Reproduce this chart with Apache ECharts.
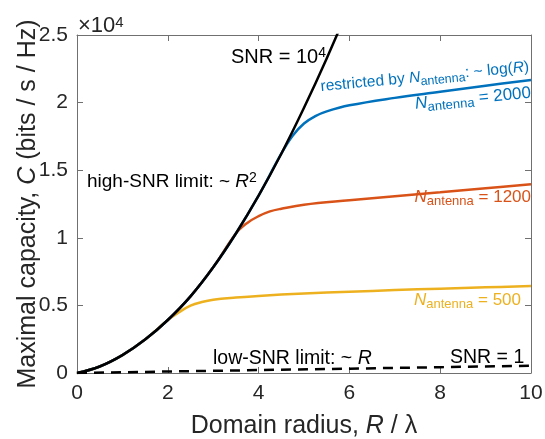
<!DOCTYPE html>
<html>
<head>
<meta charset="utf-8">
<script src="https://cdn.jsdelivr.net/npm/echarts/dist/echarts.min.js"></script>
<style>
  html, body { margin: 0; padding: 0; background: #ffffff; }
  #chart { width: 545px; height: 439px; }
</style>
</head>
<body>
<div id="chart"></div>
<script>
// Domain radius R / lambda and maximal capacity C (bits/s/Hz) for each curve.

// SNR = 1e4, unlimited antennas (high-SNR limit ~ R^2)
const highSnrR = [0, 0.5, 1, 1.5, 2, 2.5, 3, 3.5, 4, 4.5, 5, 5.5, 6];
const highSnrC = [0, 480, 1320, 2470, 3920, 5670, 7820, 10320, 13120, 16220, 19620, 23270, 27170];

// N_antenna = 500
const ant500R = [0, 0.5, 1, 1.5, 2, 2.25, 2.5, 2.75, 3, 3.5, 4, 4.5, 5, 6, 7, 8, 9, 10];
const ant500C = [0, 480, 1320, 2470, 3920, 4500, 4980, 5250, 5420, 5580, 5700, 5800, 5880, 6010, 6130, 6240, 6340, 6430];

// N_antenna = 1200
const ant1200R = [0, 0.5, 1, 1.5, 2, 2.5, 3, 3.5, 3.75, 4, 4.25, 4.5, 5, 6, 7, 8, 9, 10];
const ant1200C = [0, 480, 1320, 2470, 3920, 5670, 7820, 10320, 11100, 11600, 11950, 12150, 12450, 12780, 13080, 13370, 13670, 13960];

// N_antenna = 2000
const ant2000R = [0, 0.5, 1, 1.5, 2, 2.5, 3, 3.5, 4, 4.5, 4.75, 5, 5.25, 5.5, 6, 7, 8, 9, 10];
const ant2000C = [0, 480, 1320, 2470, 3920, 5670, 7820, 10320, 13120, 16220, 17550, 18450, 19000, 19350, 19800, 20350, 20800, 21250, 21670];

// SNR = 1 (low-SNR limit ~ R)
const lowSnrR = [0, 2, 4, 6, 8, 10];
const lowSnrC = [0, 110, 215, 320, 430, 540];

const FONT = '"Liberation Sans", Arial, Helvetica, sans-serif';
const TEXT_COLOR = '#262626';
const LINE_COLOR = '#707070';
const BLUE = '#0072BD', ORANGE = '#D95319', YELLOW = '#EDB120';

function pairs(xs, ys) { return xs.map((x, i) => [x, ys[i]]); }

const chart = echarts.init(document.getElementById('chart'), null, { renderer: 'canvas' });

function boxAxis(position, extra) {
  return Object.assign({
    type: 'value',
    position: position,
    axisLine: { show: true, onZero: false, lineStyle: { color: LINE_COLOR, width: 1 } },
    axisTick: { show: true, inside: true, length: 6, lineStyle: { color: LINE_COLOR, width: 1 } },
    axisLabel: { show: false },
    splitLine: { show: false }
  }, extra);
}

function richSet(color, size, subSize) {
  return {
    t: { fontSize: size, lineHeight: 22, fontFamily: FONT, fill: color, color: color },
    i: { fontSize: size, lineHeight: 22, fontFamily: FONT, fontStyle: 'italic', fill: color, color: color },
    sub: { fontSize: subSize, lineHeight: 4, verticalAlign: 'bottom', fontFamily: FONT, fill: color, color: color },
    sup: { fontSize: subSize, lineHeight: 6, verticalAlign: 'top', fontFamily: FONT, fill: color, color: color }
  };
}

function note(x, y, text, color, align, rotation, size, subSize) {
  return {
    type: 'text',
    x: x, y: y,
    rotation: rotation || 0,
    silent: true,
    z: 100,
    style: {
      text: text,
      align: align,
      verticalAlign: 'middle',
      fill: color,
      rich: richSet(color, size, subSize)
    }
  };
}

const nameRich = {
  t: { fontSize: 25, fontFamily: FONT, color: TEXT_COLOR },
  i: { fontSize: 25, fontFamily: FONT, fontStyle: 'italic', color: TEXT_COLOR }
};

const lineBase = { type: 'line', showSymbol: false, symbol: 'none', smooth: 0.4, clip: true, animation: false };

chart.setOption({
  animation: false,
  backgroundColor: '#ffffff',
  grid: { left: 77, right: 14, top: 35, bottom: 66, containLabel: false, outerBoundsMode: 'none' },
  xAxis: [
    boxAxis('bottom', {
      min: 0, max: 10, interval: 2,
      axisLabel: { show: true, fontSize: 21, color: TEXT_COLOR, fontFamily: FONT, margin: 10 },
      name: '{t|Domain radius, }{i|R}{t| / λ}',
      nameLocation: 'middle',
      nameGap: 41,
      nameMoveOverlap: false,
      nameTextStyle: { rich: nameRich }
    }),
    boxAxis('top', { min: 0, max: 10, interval: 2 })
  ],
  yAxis: [
    boxAxis('left', {
      min: 0, max: 25000, interval: 5000,
      axisLabel: {
        show: true, fontSize: 21, color: TEXT_COLOR, fontFamily: FONT, margin: 9,
        formatter: v => String(v / 10000)
      },
      name: '{t|Maximal capacity, }{i|C}{t| (bits / s / Hz)}',
      nameLocation: 'middle',
      nameGap: 36,
      nameMoveOverlap: false,
      nameTextStyle: { rich: nameRich }
    }),
    boxAxis('right', { min: 0, max: 25000, interval: 5000 })
  ],
  series: [
    Object.assign({}, lineBase, { name: 'N = 500', data: pairs(ant500R, ant500C), lineStyle: { color: YELLOW, width: 2.5 } }),
    Object.assign({}, lineBase, { name: 'N = 1200', data: pairs(ant1200R, ant1200C), lineStyle: { color: ORANGE, width: 2.5 } }),
    Object.assign({}, lineBase, { name: 'N = 2000', data: pairs(ant2000R, ant2000C), lineStyle: { color: BLUE, width: 2.5 } }),
    Object.assign({}, lineBase, { name: 'SNR = 1e4', data: pairs(highSnrR, highSnrC), lineStyle: { color: '#000000', width: 2.5 } }),
    Object.assign({}, lineBase, { name: 'SNR = 1', smooth: false, data: pairs(lowSnrR, lowSnrC), lineStyle: { color: '#000000', width: 2.5, type: [10, 7] } })
  ],
  graphic: [
    note(78, 26, '{t|×10}{sup|4}', TEXT_COLOR, 'left', 0, 22, 15),
    note(326, 57, '{t|SNR = 10}{sup|4}', '#000000', 'right', 0, 20, 14),
    note(87, 182, '{t|high-SNR limit: ~ }{i|R}{sup|2}', '#000000', 'left', 0, 19, 14),
    note(529, 67, '{t|restricted by }{i|N}{sub|antenna}{t|: ~ log(}{i|R}{t|)}', BLUE, 'right', 0.095, 15.5, 12.5),
    note(531, 93, '{i|N}{sub|antenna}{t| = 2000}', BLUE, 'right', 0.095, 17, 13),
    note(531, 197, '{i|N}{sub|antenna}{t| = 1200}', ORANGE, 'right', 0, 17, 13),
    note(521, 300, '{i|N}{sub|antenna}{t| = 500}', YELLOW, 'right', 0, 17, 13),
    note(213, 359, '{t|low-SNR limit: ~ }{i|R}', '#000000', 'left', 0, 19.5, 14),
    note(450, 358, '{t|SNR = 1}', '#000000', 'left', 0, 19.5, 14)
  ]
});
</script>
</body>
</html>
